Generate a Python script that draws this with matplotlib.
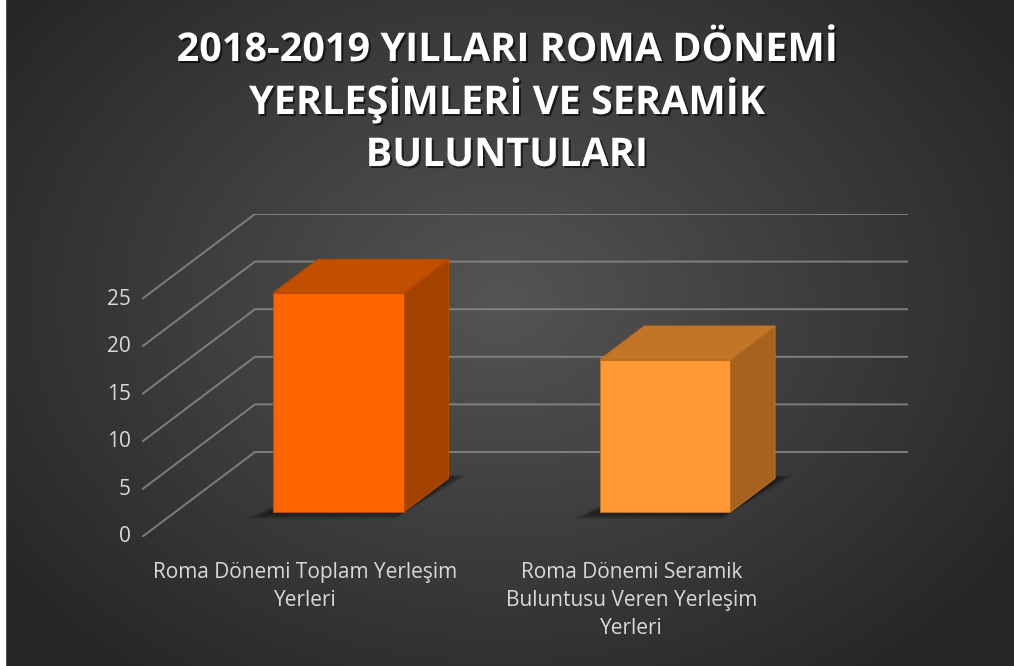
import numpy as np
import matplotlib
matplotlib.use("Agg")
import matplotlib.pyplot as plt
from matplotlib.patches import Polygon
import matplotlib.patheffects as pe

# chart data
categories = ["Roma Dönemi Toplam Yerleşim\nYerleri",
              "Roma Dönemi Seramik\nBuluntusu Veren Yerleşim\nYerleri"]
values = [23, 16]
y_ticks = [0, 5, 10, 15, 20, 25]
title_lines = ["2018-2019 YILLARI ROMA DÖNEMİ",
               "YERLEŞİMLERİ VE SERAMİK",
               "BULUNTULARI"]

front_colors = ["#FF6600", "#FF9933"]
top_colors = ["#C24E00", "#C27527"]
side_colors = ["#A44200", "#A5631F"]
edge_colors = ["#B84A00", "#BF6F22"]

W, H = 1014, 666
fig = plt.figure(figsize=(W / 100, H / 100), dpi=100)

# radial gradient background
bg = fig.add_axes([0, 0, 1, 1])
bg.set_axis_off()
yy, xx = np.mgrid[0:H, 0:W]
r = np.sqrt(((xx - 500) / 600.0) ** 2 + ((yy - 300) / 460.0) ** 2)
r = np.clip(r, 0, 1)
shade = 0.33 - 0.175 * r
img = np.dstack([shade, shade, shade])
bg.imshow(img, extent=[0, W, H, 0], aspect="auto")
bg.add_patch(plt.Rectangle((0, 0), 5, H, color="white", zorder=2))
bg.set_xlim(0, W)
bg.set_ylim(H, 0)

# oblique 3D projection parameters (data units)
DX = 0.346          # depth shift in category units
DY = 8.93           # depth shift in value units
z0, z1 = 0.294, 0.69
bar_w = 0.40
ymax = 25

left_px, right_px, bottom_px, top_px = 142, 908, 537, 214
ax = fig.add_axes([left_px / W, (H - bottom_px) / H,
                   (right_px - left_px) / W, (bottom_px - top_px) / H])
ax.set_axis_off()
ax.patch.set_alpha(0)
ax.set_xlim(0, len(categories) + DX)
ax.set_ylim(0, ymax + DY)


def proj(x, v, z):
    return (x + z * DX, v + z * DY)


grid_kw = dict(color="#8a8a8a", lw=1.4, alpha=0.85, solid_capstyle="butt")
for v in y_ticks:
    p0 = proj(0, v, 0)
    p1 = proj(0, v, 1)
    p2 = proj(len(categories), v, 1)
    ax.plot([p0[0], p1[0], p2[0]], [p0[1], p1[1], p2[1]], **grid_kw)
    ax.annotate(str(v), xy=p0, xytext=(-8, 0), textcoords="offset points",
                ha="right", va="center", fontsize=15, color="#d9d9d9",
                family="Open Sans", annotation_clip=False)

for i, (val, lab) in enumerate(zip(values, categories)):
    c = i + 0.5
    xa, xb = c - bar_w / 2, c + bar_w / 2

    # soft shadow on the floor around the bar base
    for k in range(6):
        d = 0.009 * (6 - k)
        e = 0.010 * (6 - k)
        foot = [proj(xa - d, 0, z0 - e * 1.4),
                proj(xb, 0, z0 - e * 1.4),
                proj(xb + d * 0.8, 0, z1 + e * 0.6),
                proj(xa + 0.05, 0, z1 + e * 0.6)]
        ax.add_patch(Polygon(foot, closed=True, color="black", alpha=0.11,
                             lw=0, zorder=3))

    side = [proj(xb, 0, z0), proj(xb, val, z0), proj(xb, val, z1), proj(xb, 0, z1)]
    top = [proj(xa, val, z0), proj(xb, val, z0), proj(xb, val, z1), proj(xa, val, z1)]
    front = [proj(xa, 0, z0), proj(xb, 0, z0), proj(xb, val, z0), proj(xa, val, z0)]
    ax.add_patch(Polygon(side, closed=True, fc=side_colors[i], ec=edge_colors[i],
                         lw=0.8, zorder=4))
    ax.add_patch(Polygon(top, closed=True, fc=top_colors[i], ec=edge_colors[i],
                         lw=0.8, zorder=4))
    ax.add_patch(Polygon(front, closed=True, fc=front_colors[i], ec=edge_colors[i],
                         lw=0.8, zorder=5))

    ax.annotate(lab, xy=proj(c, 0, 0), xytext=(0, -18), textcoords="offset points",
                ha="center", va="top", fontsize=15, color="#d9d9d9",
                family="Open Sans", linespacing=1.45, annotation_clip=False)

# three-line title, one baseline per line
shadow = [pe.withSimplePatchShadow(offset=(1.5, -1.5), shadow_rgbFace="black", alpha=0.6)]
for line, base in zip(title_lines, [61, 114, 166]):
    fig.text(0.5, 1 - base / H, line, ha="center", va="baseline", fontsize=28.5,
             fontweight="bold", color="white", family="Open Sans",
             path_effects=shadow)

fig.savefig("out.png", dpi=100)
